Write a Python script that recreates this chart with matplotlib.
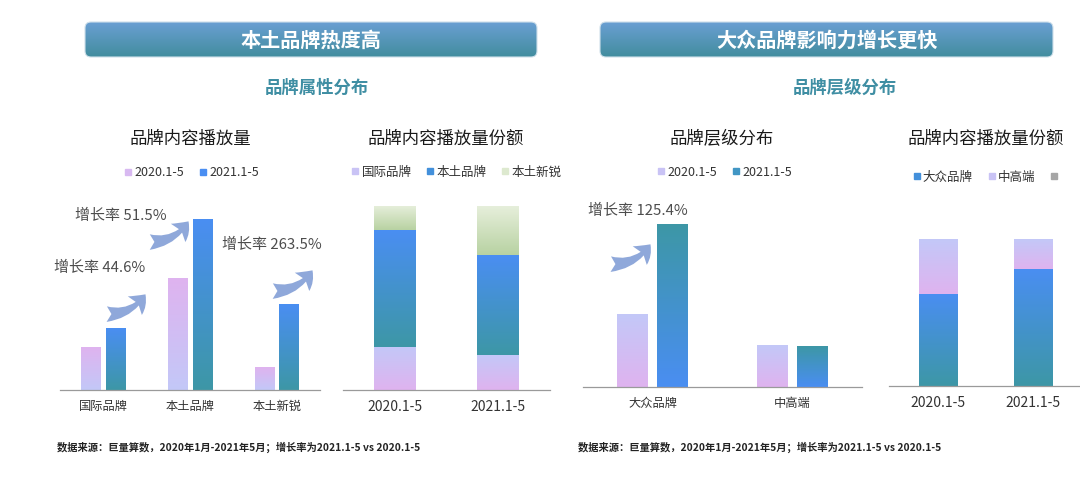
import numpy as np
import matplotlib
matplotlib.use('Agg')
import matplotlib.pyplot as plt
from matplotlib.patches import FancyBboxPatch, FancyArrowPatch
from matplotlib.lines import Line2D
from matplotlib.colors import to_rgb

plt.rcParams['font.family'] = ['Noto Sans CJK SC', 'DejaVu Sans']

# ---- data ----
periods = ['2020.1-5', '2021.1-5']

# chart 1: brand content plays (relative units)
attr_cats = ['国际品牌', '本土品牌', '本土新锐']
attr_2020 = [43, 112, 23]
attr_2021 = [62, 171, 86]
attr_growth = ['增长率 44.6%', '增长率 51.5%', '增长率 263.5%']

# chart 2: share of plays (%), per period
share_intl = [23.5, 19.0]
share_local = [63.3, 54.0]
share_new = [13.2, 27.0]

# chart 3: brand tiers (relative units)
tier_cats = ['大众品牌', '中高端']
tier_2020 = [73, 42]
tier_2021 = [163, 41]
tier_growth = '增长率 125.4%'

# chart 4: share of plays by tier (%)
share_mass = [62.8, 79.8]
share_high = [37.2, 20.2]

source = '数据来源：巨量算数，2020年1月-2021年5月；增长率为2021.1-5 vs 2020.1-5'

# ---- colours ----
PINK, LAV = '#dfb3ef', '#c3c8f8'
BLUE, TEAL = '#4a8ef2', '#3d97a6'
GRN_T, GRN_B = '#e7efdc', '#b8d2a2'
ARROW = '#8fa8da'
DARK = '#333333'

W, H = 1080, 482
fig = plt.figure(figsize=(W / 100, H / 100), dpi=100)


def vgrad(top, bottom, n=128):
    t = np.array(to_rgb(top))
    b = np.array(to_rgb(bottom))
    s = np.linspace(0, 1, n).reshape(-1, 1, 1)
    return t * (1 - s) + b * s


def fill_grad(ax, bars, top, bottom):
    img = vgrad(top, bottom)
    for b in bars:
        x, y = b.get_xy()
        w, h = b.get_width(), b.get_height()
        b.set_facecolor('none')
        b.set_linewidth(0)
        im = ax.imshow(img, extent=[x, x + w, y, y + h], origin='upper',
                       aspect='auto', zorder=2, interpolation='bilinear')
        im.set_clip_path(b)


def px_axes(x0, y0, x1, y1):
    ax = fig.add_axes([x0 / W, 1 - y1 / H, (x1 - x0) / W, (y1 - y0) / H])
    ax.set_facecolor('none')
    for s in ['top', 'right', 'left']:
        ax.spines[s].set_visible(False)
    ax.spines['bottom'].set_color('#9a9a9a')
    ax.spines['bottom'].set_linewidth(0.9)
    ax.set_yticks([])
    ax.tick_params(axis='x', length=0, pad=7, colors=DARK)
    return ax


def legend(ax, labels, colors, cx, cy, size=9):
    handles = [Line2D([], [], marker='s', ls='', color=c, markersize=4.5)
               for c in colors]
    ax.legend(handles, labels, loc='center', ncol=len(labels), frameon=False,
              bbox_to_anchor=(cx / W, 1 - cy / H), bbox_transform=fig.transFigure,
              fontsize=size, handletextpad=0.1, columnspacing=1.1,
              handlelength=0.8, labelcolor=DARK)


off, bw = 0.1425, 0.222

# chart 1
ax1 = px_axes(60, 195, 320, 390)
x = np.arange(len(attr_cats))
b20 = ax1.bar(x - off, attr_2020, bw)
b21 = ax1.bar(x + off, attr_2021, bw)
fill_grad(ax1, b20, PINK, LAV)
fill_grad(ax1, b21, BLUE, TEAL)
ax1.set_xlim(-0.5, 2.5)
ax1.set_ylim(0, 195)
ax1.set_xticks(x, attr_cats, fontsize=8.8)
legend(ax1, periods, ['#d8b9f1', BLUE], 191, 173)

# chart 2
ax2 = px_axes(343, 195, 550, 390)
x2 = np.arange(len(periods))
sw = 0.405
s1 = ax2.bar(x2, share_intl, sw)
s2 = ax2.bar(x2, share_local, sw, bottom=share_intl)
s3 = ax2.bar(x2, share_new, sw,
             bottom=[a + b for a, b in zip(share_intl, share_local)])
fill_grad(ax2, s1, LAV, PINK)
fill_grad(ax2, s2, BLUE, TEAL)
fill_grad(ax2, s3, GRN_T, GRN_B)
ax2.set_xlim(-0.5, 1.5)
ax2.set_ylim(0, 105.8)
ax2.set_xticks(x2, periods, fontsize=10)
legend(ax2, attr_cats, ['#c9c3f5', '#4390db', '#dde9cf'], 456, 172)

# chart 3
ax3 = px_axes(583, 195, 862, 387)
x3 = np.arange(len(tier_cats))
t20 = ax3.bar(x3 - off, tier_2020, bw)
t21 = ax3.bar(x3 + off, tier_2021, bw)
fill_grad(ax3, t20, LAV, PINK)
fill_grad(ax3, t21, TEAL, BLUE)
ax3.set_xlim(-0.5, 1.5)
ax3.set_ylim(0, 192)
ax3.set_xticks(x3, tier_cats, fontsize=8.8)
legend(ax3, periods, ['#c9c3f5', '#4196c4'], 724, 172)

# chart 4
ax4 = px_axes(889, 195, 1080, 386)
m1 = ax4.bar(x2, share_mass, sw)
m2 = ax4.bar(x2, share_high, sw, bottom=share_mass)
fill_grad(ax4, m1, BLUE, TEAL)
fill_grad(ax4, m2, LAV, PINK)
ax4.set_xlim(-0.513, 1.487)
ax4.set_ylim(0, 129.9)
ax4.set_xticks(x2, periods, fontsize=10)
legend(ax4, ['大众品牌', '中高端', ''], ['#4390db', '#c9c3f5', '#a6a6a6'], 986, 177)

# ---- overlay: headers, titles, arrows, notes ----
ov = fig.add_axes([0, 0, 1, 1])
ov.set_xlim(0, W)
ov.set_ylim(H, 0)
ov.axis('off')
ov.set_facecolor('none')

headers = [('本土品牌热度高', 85, 537), ('大众品牌影响力增长更快', 600, 1053)]
for txt, x0, x1 in headers:
    box = FancyBboxPatch((x0, 22), x1 - x0, 35,
                         boxstyle='round,pad=0,rounding_size=6',
                         facecolor='none', edgecolor='#cfe0ea', lw=0.8, zorder=3)
    ov.add_patch(box)
    im = ov.imshow(vgrad('#6a9fd3', '#428d9e'), extent=[x0, x1, 57, 22],
                   origin='upper', aspect='auto', zorder=2)
    im.set_clip_path(box)
    ov.text((x0 + x1) / 2, 40, txt, color='white', fontsize=14.5,
            fontweight='bold', ha='center', va='center', zorder=4)

ov.text(317, 88, '品牌属性分布', color='#3f8ea3', fontsize=12.5,
        fontweight='bold', ha='center', va='center')
ov.text(845, 88, '品牌层级分布', color='#3f8ea3', fontsize=12.5,
        fontweight='bold', ha='center', va='center')

titles = [('品牌内容播放量', 190), ('品牌内容播放量份额', 446),
          ('品牌层级分布', 722), ('品牌内容播放量份额', 986)]
for txt, cx in titles:
    ov.text(cx, 139, txt, color='#1a1a1a', fontsize=12.5,
            ha='center', va='center')

# growth notes and arrows
notes = [(attr_growth[0], 54, 268), (attr_growth[1], 75, 216),
         (attr_growth[2], 222, 245), (tier_growth, 588, 211)]
for txt, x0, y0 in notes:
    ov.text(x0, y0, txt, color='#4d4d4d', fontsize=10.8, ha='left', va='center')

arrows = [((104, 314), (147, 292)), ((147, 242), (190, 219)),
          ((270, 291), (314, 268)), ((608, 264), (652, 242))]
for a, b in arrows:
    ov.add_patch(FancyArrowPatch(
        a, b, arrowstyle='fancy,head_length=0.8,head_width=1.2,tail_width=0.8',
        connectionstyle='arc3,rad=0.3', mutation_scale=14,
        color=ARROW, lw=0, zorder=5))

for x0 in (57, 578):
    ov.text(x0, 447, source, color='#222222', fontsize=7.4,
            fontweight='bold', ha='left', va='center')

fig.savefig('out.png', dpi=100)
